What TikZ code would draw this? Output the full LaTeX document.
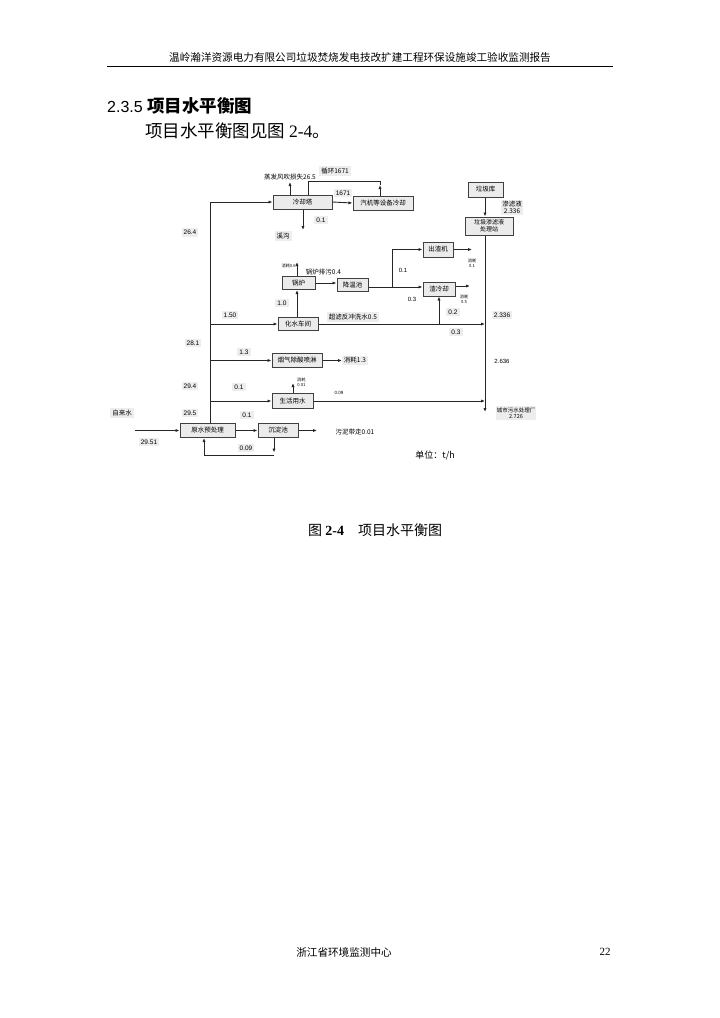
\documentclass[tikz,border=0pt]{standalone}
\usepackage{fontspec}
\setmainfont{Liberation Serif}
\newfontfamily\cjk{Noto Sans CJK SC}
\newfontfamily\arial{Liberation Sans}
\usetikzlibrary{arrows.meta}

\tikzset{
  unit/.style={draw=black!75,line width=1pt,fill=black!8,inner sep=0pt,
    font=\cjk\fontsize{6.5}{7.5}\selectfont,align=center},
  val/.style={fill=black!7,inner sep=2pt,font=\arial\fontsize{6.5}{7}\selectfont},
  note/.style={inner sep=0pt,font=\cjk\fontsize{6.5}{7.5}\selectfont},
  small/.style={inner sep=0pt,align=center,font=\cjk\fontsize{4.2}{4.8}\selectfont},
  flow/.style={draw=black!85,line width=0.9pt,-{Latex[length=4pt,width=3.2pt]}},
  pipe/.style={draw=black!85,line width=0.9pt},
}

\begin{document}
\begin{tikzpicture}[x=1pt,y=-1pt]
\useasboundingbox (0,0) rectangle (720,1018);

% page
\node[font=\cjk\fontsize{10.6}{12}\selectfont,inner sep=0pt] (head) at (360,57)
  {温岭瀚洋资源电力有限公司垃圾焚烧发电技改扩建工程环保设施竣工验收监测报告};
\draw[line width=1pt] (107,66) -- (613,66);
\node[anchor=west,inner sep=0pt] (sec) at (107,106)
  {\arial\fontsize{16}{18}\selectfont 2.3.5 \cjk\bfseries\fontsize{17.5}{19}\selectfont 项目水平衡图};
\node[anchor=west,inner sep=0pt] (intro) at (145,131)
  {\cjk\fontsize{17.5}{19}\selectfont 项目水平衡图见图 \rmfamily 2-4\cjk 。};
\node[anchor=west,inner sep=0pt] (cap) at (308,530)
  {\cjk\fontsize{14}{16}\selectfont 图 \rmfamily\bfseries 2-4\quad \cjk\mdseries 项目水平衡图};
\node[inner sep=0pt,font=\cjk\fontsize{10.6}{12}\selectfont] (foot) at (344,952) {浙江省环境监测中心};
\node[inner sep=0pt,font=\fontsize{11}{12}\selectfont] (page) at (605,952) {22};

% units
\node[unit,minimum width=59pt,minimum height=14pt] (cool) at (302.5,202) {冷却塔};
\node[unit,minimum width=60pt,minimum height=14pt] (turb) at (383,203) {汽机等设备冷却};
\node[unit,minimum width=35pt,minimum height=15pt] (garb) at (485.5,189.5) {垃圾库};
\node[unit,minimum width=48pt,minimum height=18pt,font=\cjk\fontsize{6}{6.8}\selectfont] (leach) at (489,226) {垃圾渗滤液\\处理站};
\node[unit,minimum width=33pt,minimum height=13pt] (boil) at (298.5,283) {锅炉};
\node[unit,minimum width=31pt,minimum height=13pt] (pond) at (352.5,285) {降温池};
\node[unit,minimum width=30pt,minimum height=15pt] (slag) at (438,249.5) {出渣机};
\node[unit,minimum width=32pt,minimum height=14pt] (slagc) at (439,289) {渣冷却};
\node[unit,minimum width=40pt,minimum height=13pt] (chem) at (298,324) {化水车间};
\node[unit,minimum width=50pt,minimum height=14pt] (acid) at (297,360.5) {烟气除酸喷淋};
\node[unit,minimum width=41pt,minimum height=15pt] (life) at (292.5,401) {生活用水};
\node[unit,minimum width=55pt,minimum height=14pt] (raw) at (207.5,430.5) {原水预处理};
\node[unit,minimum width=40pt,minimum height=14pt] (sed) at (278,430.5) {沉淀池};

% free ends
\coordinate (top) at (210,202);
\coordinate (out) at (485,412);
\coordinate (evap) at (290,182);
\coordinate (ditch) at (303,230);
\coordinate (lp) at (380,181);
\coordinate (lq) at (308,181);
\coordinate (ltip) at (380,185);
\coordinate (bl) at (297,262);
\coordinate (j1) at (392,287);
\coordinate (sl) at (472,249.5);
\coordinate (sc) at (470,286);
\coordinate (mist) at (342,360.5);
\coordinate (lu) at (293,383);
\coordinate (tap) at (135,430.5);
\coordinate (sludge) at (317,430.5);
\coordinate (r1) at (274,455);
\coordinate (r2) at (204,455);

% connectors
\draw[flow] (raw.north -| top) -- (top) -- (cool.west);
\draw[flow] (cool.north -| evap) -- (evap);
\draw[flow] (cool.south -| ditch) -- (ditch);
\draw[flow] (cool.east) -- (turb.west);
\draw[flow] (turb.north -| lp) -- (ltip);
\draw[pipe] (ltip) -- (lp) -- (lq) -- (lq |- cool.north);
\draw[flow] (garb.south -| out) -- (leach.north -| out);
\draw[flow] (leach.south -| out) -- (out);
\draw[flow] (top |- chem.west) -- (chem.west);
\draw[flow] (chem.east) -- (chem.east -| out);
\draw[flow] (chem.north -| bl) -- (boil.south -| bl);
\draw[flow] (boil.north -| bl) -- (bl);
\draw[flow] (boil.east) -- (boil.east -| pond.west);
\draw[flow] (pond.east |- j1) -- (j1 -| slagc.west);
\draw[flow] (j1) -- (j1 |- slag.west) -- (slag.west);
\draw[flow] (slag.east) -- (sl);
\draw[flow] (slagc.east |- sc) -- (sc);
\draw[flow] (slagc.south |- chem.east) -- (slagc.south);
\draw[flow] (top |- acid.west) -- (acid.west);
\draw[flow] (acid.east) -- (mist);
\draw[flow] (top |- life.west) -- (life.west);
\draw[flow] (life.north -| lu) -- (lu);
\draw[flow] (life.east) -- (life.east -| out);
\draw[flow] (tap) -- (raw.west);
\draw[flow] (raw.east) -- (sed.west);
\draw[flow] (sed.east) -- (sludge);
\draw[flow] (sed.south -| r1) -- (274,452.5);
\draw[flow] (r1) -- (r2) -- (raw.south -| r2);

% labels
\node[note,anchor=south] (l1) at ([yshift=2pt]evap) {蒸发风吹损失26.5};
\node[val,font=\cjk\fontsize{6.5}{7}\selectfont] (l2) at (335,171) {循环1671};
\node[val] (l3) at (343,193) {1671};
\node[val] (l4) at (321,220) {0.1};
\node[val,font=\cjk\fontsize{6.5}{7}\selectfont] (l5) at (283,236) {溪沟};
\node[val] (l6) at (190,232.5) {26.4};
\node[val,font=\cjk\fontsize{6.5}{7}\selectfont,align=center,inner sep=1pt] (l7) at (512,207.5) {渗滤液\\2.336};
\node[small,anchor=east] (l8) at (296,266) {消耗0.6};
\node[note] (l9) at (323.5,272) {锅炉排污0.4};
\node[small] (l10) at (472,263) {消耗\\0.1};
\node[note,font=\arial\fontsize{6}{7}\selectfont] (l11) at (403,270) {0.1};
\node[small] (l12) at (464,299) {消耗\\0.5};
\node[note,font=\arial\fontsize{6}{7}\selectfont] (l13) at (412,299) {0.3};
\node[val] (l14) at (453,312) {0.2};
\node[val,font=\cjk\fontsize{6.5}{7}\selectfont] (l15) at (353,317) {超滤反冲洗水0.5};
\node[val] (l16) at (456,332) {0.3};
\node[val] (l17) at (502,315) {2.336};
\node[note,font=\arial\fontsize{6}{7}\selectfont] (l18) at (502,361) {2.636};
\node[val] (l19) at (282,303) {1.0};
\node[val] (l20) at (230,315) {1.50};
\node[val] (l21) at (193,343) {28.1};
\node[val] (l22) at (244,352) {1.3};
\node[val,font=\cjk\fontsize{6.5}{7}\selectfont] (l23) at (355,360.5) {消耗1.3};
\node[small,anchor=west] (l24) at (297,382) {消耗\\0.01};
\node[note,font=\arial\fontsize{4.5}{5}\selectfont] (l25) at (339,393) {0.09};
\node[val] (l26) at (190,386) {29.4};
\node[val] (l27) at (239,387) {0.1};
\node[val,font=\cjk\fontsize{6.5}{7}\selectfont] (l28) at (122,413) {自来水};
\node[val] (l29) at (190,413) {29.5};
\node[val] (l30) at (149,442) {29.51};
\node[val] (l31) at (247,415) {0.1};
\node[val] (l32) at (246,448) {0.09};
\node[note] (l33) at (355,432) {污泥带走0.01};
\node[val,font=\cjk\fontsize{5.5}{6.3}\selectfont,align=center,inner sep=1pt] (l34) at (516,413) {城市污水处理厂\\2.726};
\node[note,font=\cjk\fontsize{9}{10}\selectfont] (l35) at (435,455) {单位：t/h};
\end{tikzpicture}
\end{document}
